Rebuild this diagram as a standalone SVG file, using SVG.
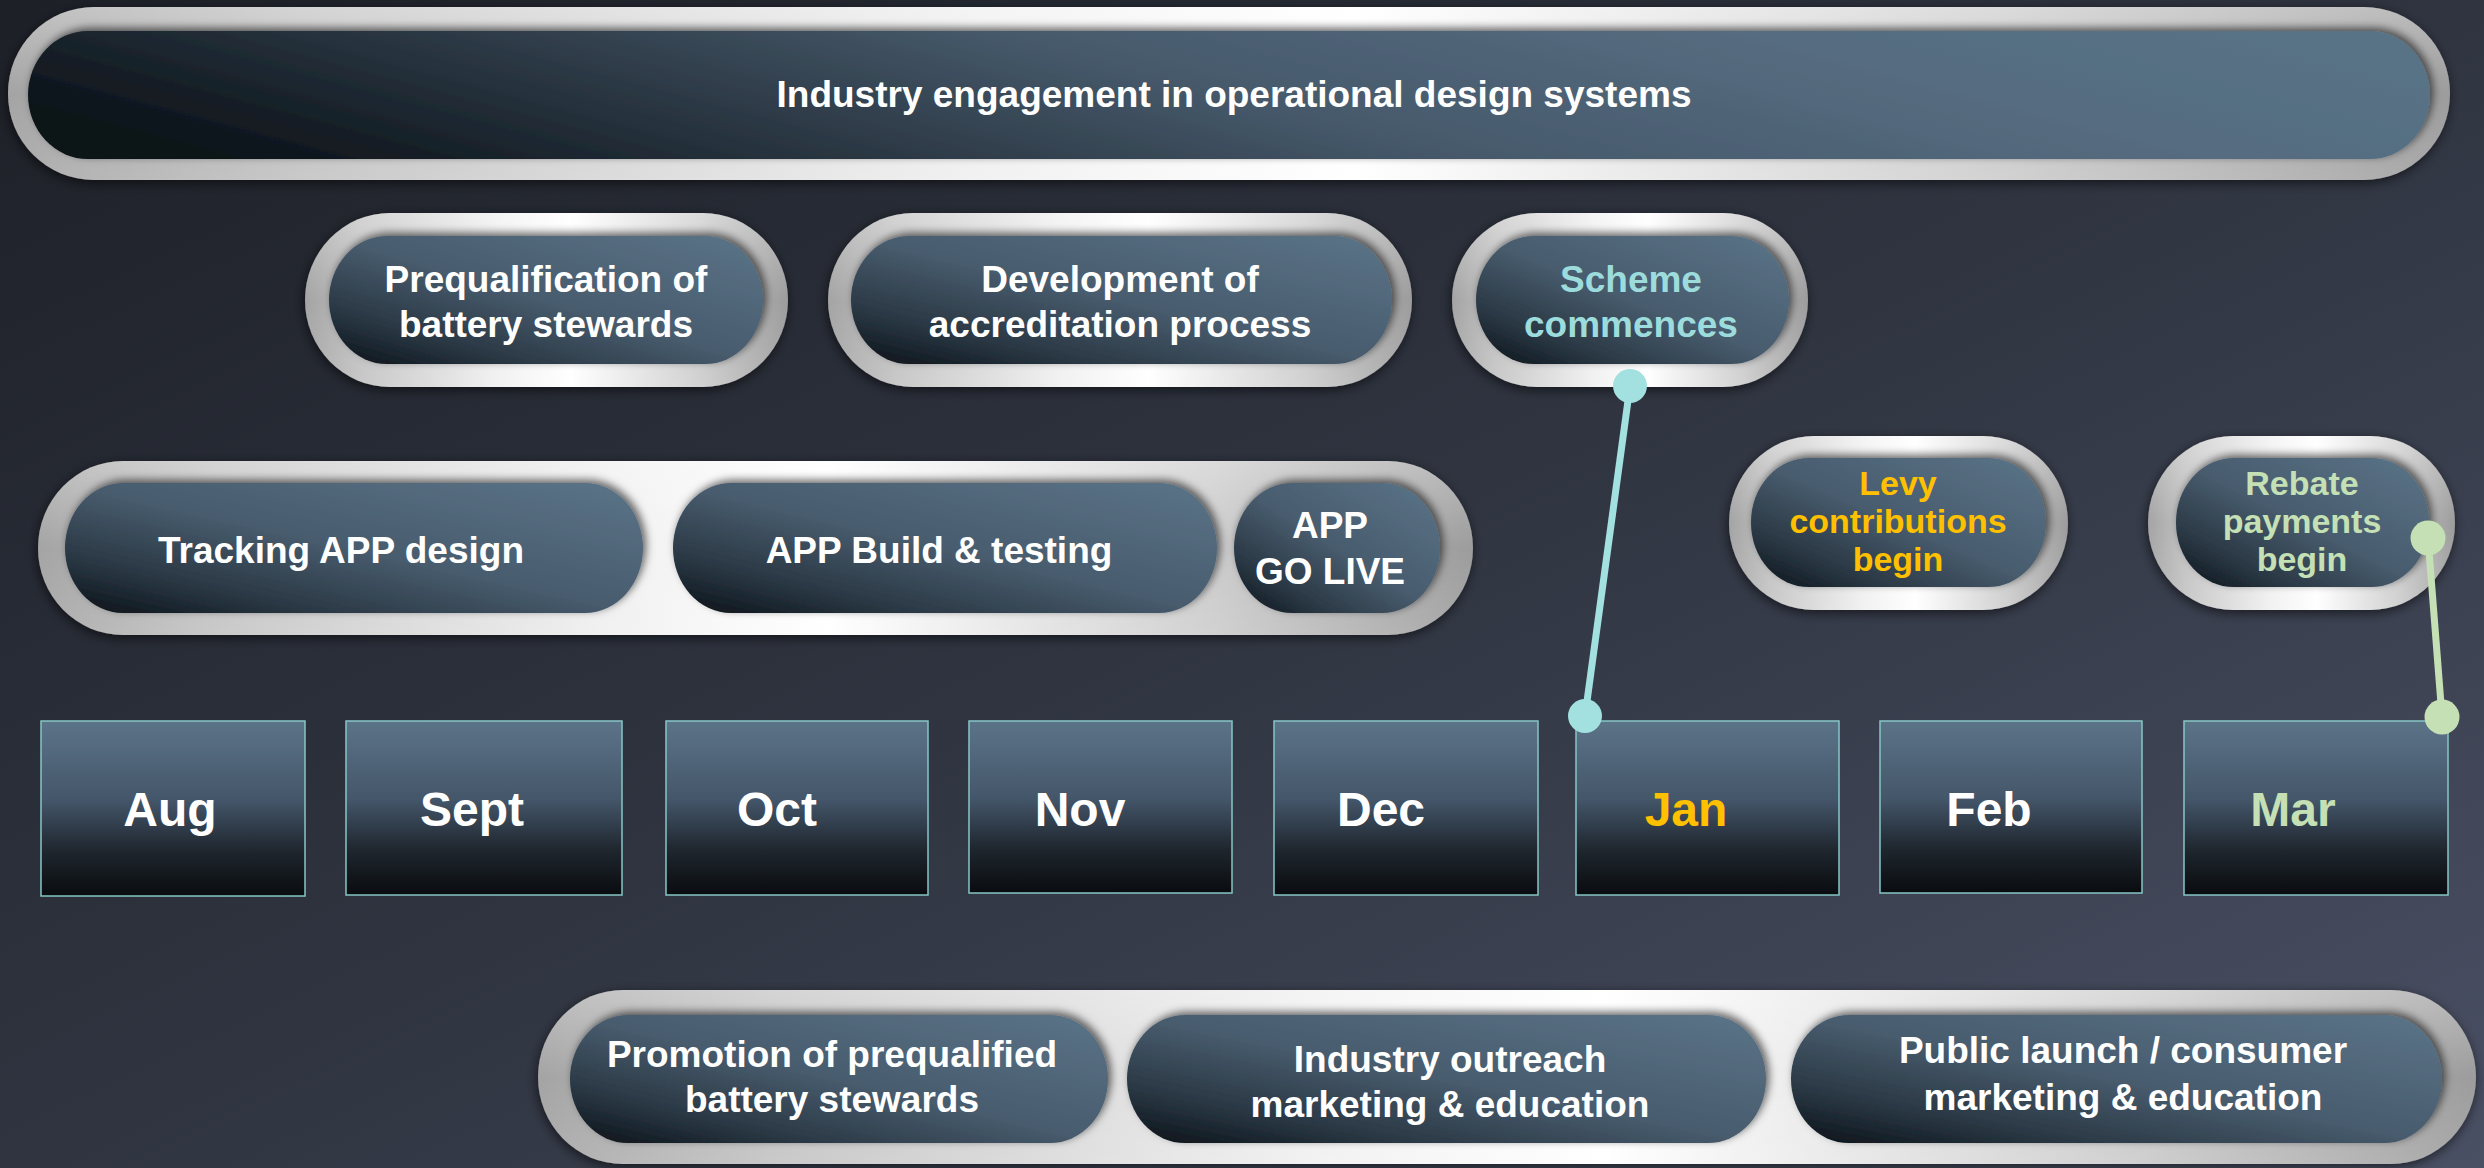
<svg xmlns="http://www.w3.org/2000/svg" width="2484" height="1168" viewBox="0 0 2484 1168">
  <defs>
    <linearGradient id="bg" x1="0" y1="0" x2="1" y2="1">
      <stop offset="0" stop-color="#1d2027"/>
      <stop offset="0.5" stop-color="#2f3440"/>
      <stop offset="1" stop-color="#4a5064"/>
    </linearGradient>
    <linearGradient id="ring" x1="0" y1="0" x2="1" y2="0">
      <stop offset="0" stop-color="#a4a4a4"/>
      <stop offset="0.12" stop-color="#c2c2c2"/>
      <stop offset="0.4" stop-color="#f0f0f0"/>
      <stop offset="0.55" stop-color="#ffffff"/>
      <stop offset="0.82" stop-color="#cbcbcb"/>
      <stop offset="1" stop-color="#9c9c9c"/>
    </linearGradient>
    <linearGradient id="ringGloss" x1="0" y1="0" x2="0" y2="1">
      <stop offset="0" stop-color="#ffffff" stop-opacity="0.3"/>
      <stop offset="0.5" stop-color="#ffffff" stop-opacity="0"/>
      <stop offset="1" stop-color="#ffffff" stop-opacity="0.12"/>
    </linearGradient>
    <linearGradient id="topGrad" x1="0" y1="0.6" x2="1" y2="0.4">
      <stop offset="0" stop-color="#0b1218"/>
      <stop offset="0.2" stop-color="#232e38"/>
      <stop offset="0.5" stop-color="#46596b"/>
      <stop offset="0.8" stop-color="#566c80"/>
      <stop offset="1" stop-color="#587286"/>
    </linearGradient>
    <linearGradient id="pillGrad" x1="0" y1="1" x2="1" y2="0">
      <stop offset="0" stop-color="#0a1117"/>
      <stop offset="0.22" stop-color="#2a3844"/>
      <stop offset="0.5" stop-color="#485c6e"/>
      <stop offset="1" stop-color="#5b7488"/>
    </linearGradient>
    <linearGradient id="monthGrad" x1="0" y1="0" x2="0" y2="1">
      <stop offset="0" stop-color="#5c7488"/>
      <stop offset="0.45" stop-color="#44566a"/>
      <stop offset="0.75" stop-color="#1e252d"/>
      <stop offset="1" stop-color="#090c0f"/>
    </linearGradient>
    <filter id="ringShadow" x="-10%" y="-30%" width="120%" height="160%">
      <feDropShadow dx="-1" dy="3" stdDeviation="6" flood-color="#000" flood-opacity="0.6"/>
    </filter>
    <filter id="innerShadow" x="-10%" y="-30%" width="120%" height="160%">
      <feDropShadow dx="3" dy="-3" stdDeviation="4" flood-color="#000" flood-opacity="0.6"/>
    </filter>
    <style>
      .ring { fill: url(#ring); filter: url(#ringShadow); }
      .gloss { fill: url(#ringGloss); }
      .pill { fill: url(#pillGrad); filter: url(#innerShadow); }
      .toppill { fill: url(#topGrad); filter: url(#innerShadow); }
      .month { fill: url(#monthGrad); stroke: #86c6c6; stroke-width: 1.5; }
      .t { font-family: "Liberation Sans", Arial, sans-serif; font-weight: bold; font-size: 37px; fill: #ffffff; text-anchor: middle; }
      .s { font-size: 34px; }
      .m { font-family: "Liberation Sans", Arial, sans-serif; font-weight: bold; font-size: 48px; fill: #ffffff; text-anchor: middle; }
      .gold { fill: #ffc000; }
      .green { fill: #c5e0b4; }
      .teal { fill: #9ddcdc; }
    </style>
  </defs>

  <rect x="0" y="0" width="2484" height="1168" fill="url(#bg)"/>

  <!-- Top banner -->
  <g id="industry-engagement">
    <rect class="ring" x="8" y="7" width="2442" height="173" rx="86" ry="86"/>
    <rect class="gloss" x="8" y="7" width="2442" height="173" rx="86" ry="86"/>
    <rect class="toppill" x="28" y="31" width="2402" height="128" rx="60" ry="64"/>
    <text class="t" x="1234" y="107">Industry engagement in operational design systems</text>
  </g>

  <!-- Row 2 -->
  <g id="prequalification">
    <rect class="ring" x="305" y="213" width="483" height="174" rx="85" ry="87"/>
    <rect class="gloss" x="305" y="213" width="483" height="174" rx="85" ry="87"/>
    <rect class="pill" x="329" y="236" width="434" height="128" rx="58" ry="64"/>
    <text class="t" x="546" y="292">Prequalification of</text>
    <text class="t" x="546" y="337">battery stewards</text>
  </g>
  <g id="accreditation">
    <rect class="ring" x="828" y="213" width="584" height="174" rx="85" ry="87"/>
    <rect class="gloss" x="828" y="213" width="584" height="174" rx="85" ry="87"/>
    <rect class="pill" x="851" y="236" width="541" height="128" rx="58" ry="64"/>
    <text class="t" x="1120" y="292">Development of</text>
    <text class="t" x="1120" y="337">accreditation process</text>
  </g>
  <g id="scheme-commences">
    <rect class="ring" x="1452" y="213" width="356" height="174" rx="85" ry="87"/>
    <rect class="gloss" x="1452" y="213" width="356" height="174" rx="85" ry="87"/>
    <rect class="pill" x="1476" y="236" width="313" height="128" rx="58" ry="64"/>
    <text class="t teal" x="1631" y="292">Scheme</text>
    <text class="t teal" x="1631" y="337">commences</text>
  </g>

  <!-- Row 3: app track -->
  <g id="app-track">
    <rect class="ring" x="38" y="461" width="1435" height="174" rx="85" ry="87"/>
    <rect class="gloss" x="38" y="461" width="1435" height="174" rx="85" ry="87"/>
  </g>
  <g id="tracking-app-design">
    <rect class="pill" x="65" y="483" width="578" height="130" rx="58" ry="65"/>
    <text class="t" x="341" y="563">Tracking APP design</text>
  </g>
  <g id="app-build-testing">
    <rect class="pill" x="673" y="483" width="544" height="130" rx="58" ry="65"/>
    <text class="t" x="939" y="563">APP Build &amp; testing</text>
  </g>
  <g id="app-go-live">
    <rect class="pill" x="1234" y="483" width="206" height="130" rx="58" ry="65"/>
    <text class="t" x="1330" y="538">APP</text>
    <text class="t" x="1330" y="584">GO LIVE</text>
  </g>

  <g id="levy">
    <rect class="ring" x="1729" y="436" width="339" height="174" rx="85" ry="87"/>
    <rect class="gloss" x="1729" y="436" width="339" height="174" rx="85" ry="87"/>
    <rect class="pill" x="1751" y="458" width="295" height="129" rx="58" ry="64"/>
    <text class="t s gold" x="1898" y="495">Levy</text>
    <text class="t s gold" x="1898" y="533">contributions</text>
    <text class="t s gold" x="1898" y="571">begin</text>
  </g>
  <g id="rebate">
    <rect class="ring" x="2148" y="436" width="307" height="174" rx="85" ry="87"/>
    <rect class="gloss" x="2148" y="436" width="307" height="174" rx="85" ry="87"/>
    <rect class="pill" x="2176" y="458" width="253" height="129" rx="58" ry="64"/>
    <text class="t s green" x="2302" y="495">Rebate</text>
    <text class="t s green" x="2302" y="533">payments</text>
    <text class="t s green" x="2302" y="571">begin</text>
  </g>

  <!-- Months -->
  <g id="aug"><rect class="month" x="41" y="721" width="264" height="175"/><text class="m" x="170" y="826">Aug</text></g>
  <g id="sept"><rect class="month" x="346" y="721" width="276" height="174"/><text class="m" x="472" y="826">Sept</text></g>
  <g id="oct"><rect class="month" x="666" y="721" width="262" height="174"/><text class="m" x="777" y="826">Oct</text></g>
  <g id="nov"><rect class="month" x="969" y="721" width="263" height="172"/><text class="m" x="1080" y="826">Nov</text></g>
  <g id="dec"><rect class="month" x="1274" y="721" width="264" height="174"/><text class="m" x="1381" y="826">Dec</text></g>
  <g id="jan"><rect class="month" x="1576" y="721" width="263" height="174"/><text class="m gold" x="1686" y="826">Jan</text></g>
  <g id="feb"><rect class="month" x="1880" y="721" width="262" height="172"/><text class="m" x="1989" y="826">Feb</text></g>
  <g id="mar"><rect class="month" x="2184" y="721" width="264" height="174"/><text class="m green" x="2293" y="826">Mar</text></g>

  <!-- Bottom row -->
  <g id="marketing-track">
    <rect class="ring" x="538" y="990" width="1938" height="174" rx="85" ry="87"/>
    <rect class="gloss" x="538" y="990" width="1938" height="174" rx="85" ry="87"/>
  </g>
  <g id="promotion">
    <rect class="pill" x="570" y="1015" width="538" height="128" rx="58" ry="64"/>
    <text class="t" x="832" y="1067">Promotion of prequalified</text>
    <text class="t" x="832" y="1112">battery stewards</text>
  </g>
  <g id="industry-outreach">
    <rect class="pill" x="1127" y="1015" width="639" height="128" rx="58" ry="64"/>
    <text class="t" x="1450" y="1072">Industry outreach</text>
    <text class="t" x="1450" y="1117">marketing &amp; education</text>
  </g>
  <g id="public-launch">
    <rect class="pill" x="1791" y="1015" width="651" height="128" rx="58" ry="64"/>
    <text class="t" x="2123" y="1063">Public launch / consumer</text>
    <text class="t" x="2123" y="1110">marketing &amp; education</text>
  </g>

  <!-- Connectors -->
  <g id="connectors">
    <line x1="1630" y1="386" x2="1585" y2="716" stroke="#a3e0e0" stroke-width="7"/>
    <circle cx="1630" cy="386" r="17" fill="#a3e0e0"/>
    <circle cx="1585" cy="716" r="17" fill="#a3e0e0"/>
    <line x1="2428" y1="538" x2="2442" y2="717" stroke="#c5e0b4" stroke-width="7"/>
    <circle cx="2428" cy="538" r="17.5" fill="#c5e0b4"/>
    <circle cx="2442" cy="717" r="17.5" fill="#c5e0b4"/>
  </g>
</svg>
